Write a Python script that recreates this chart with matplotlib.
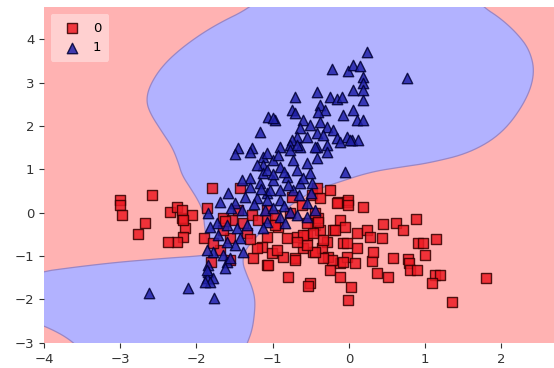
import numpy as np
import matplotlib
matplotlib.use("Agg")
import matplotlib.pyplot as plt

# class 0 samples (red squares)
x0 = [-3.00, -3.00, -2.98, -2.58, -2.67, -2.77, -2.35, -2.25, -2.19, -2.06,
      -2.15, -2.18, -2.25, -2.37, -2.19, -1.90, -1.81, -1.86, -1.80, -1.43,
      -1.56, -1.26, -1.07, -2.18, -1.65, -1.53, -1.56, -1.45, -1.39, -1.27,
      -1.19, -1.07, -1.14, -1.69, -1.78, -1.65, -1.34, -1.21, -1.07, -1.07,
      -0.97, -0.93, -0.81, -0.68, -0.55, -0.45, -0.41, -0.38, -0.29, -0.21,
      -0.12, -0.08, -1.01, -0.87, -0.71, -0.60, -0.47, -0.35, -0.28, -0.25,
      -1.06, -0.80, -0.51, -0.12, -0.03, -0.12, -0.75, -0.48, -0.38, -0.25,
      -0.14, -0.03, -0.62, -0.42, -0.01, -0.01, 0.18, 0.45, 0.62, 0.71,
      0.88, 0.90, 0.97, 1.14, 1.00, 0.58, 0.77, 0.79, 0.80, 0.89,
      0.30, 0.31, 0.37, 0.51, 1.13, 1.19, 1.09, 1.35, 1.80, 0.03,
      -0.01, -0.54, -0.18, -0.05, 0.10, 0.24, 0.28, 0.43, 0.10, -0.03,
      -0.08, 0.08, -0.22, -0.34, -0.45, -0.34, -0.47, -0.55, -0.60, -0.71,
      -0.94, -0.68, -0.55, -0.77, -0.97, -0.45, -0.41, -0.16, -1.62, -1.30]
y0 = [0.29, 0.18, -0.05, 0.41, -0.24, -0.49, 0.02, 0.13, -0.12, -0.05,
      -0.35, -0.56, -0.68, -0.68, 0.06, -0.58, -1.13, 0.11, 0.57, 0.57,
      -1.09, -1.05, -1.21, -0.17, -0.12, -0.17, -0.58, 0.06, -0.24, -0.05,
      -0.17, -0.56, -0.79, -0.86, -0.70, -0.40, -0.47, -0.82, -0.12, 0.06,
      -0.05, -0.33, -0.58, -0.56, -0.51, -0.28, -0.12, -0.40, -0.68, -0.40,
      -0.17, -0.70, -0.93, -1.02, -1.05, -0.82, -0.91, -0.82, -1.02, -1.32,
      -1.21, -1.49, -1.62, -1.16, -1.02, -1.49, 0.36, 0.41, 0.34, 0.52,
      0.25, 0.25, 0.18, 0.57, 0.29, 0.18, 0.13, -0.26, -0.24, -0.40,
      -0.15, -0.70, -0.70, -0.61, -0.98, -1.05, -1.07, -1.16, -1.32, -1.32,
      -1.12, -0.91, -1.39, -1.49, -1.44, -1.44, -1.62, -2.06, -1.51, -1.72,
      -2.02, -1.69, -0.40, -0.33, -0.47, -0.40, -0.56, -0.58, -0.82, -0.70,
      -1.14, -1.16, -1.09, -1.05, -0.91, -0.63, -0.47, -0.75, -0.51, -1.09,
      -0.86, -0.68, -0.24, 0.00, -0.28, 0.00, -0.21, 0.22, -0.20, -0.62]

# class 1 samples (blue triangles)
x1 = [0.24, 0.76, -0.22, -0.01, 0.05, 0.14, 0.18, 0.18, 0.05, 0.18,
      0.18, -0.42, -0.71, -0.25, -0.16, -0.09, -0.38, -0.31, -0.41, -0.75,
      -0.71, -1.06, -0.97, -1.17, 0.05, -0.08, 0.10, 0.18, -0.60, -0.51,
      -0.38, -0.29, -0.64, -0.68, -0.75, -0.55, -0.42, -0.34, -0.21, -0.16,
      -0.03, 0.04, 0.12, -0.29, -0.42, -1.45, -1.27, -0.90, -0.77, -0.64,
      -1.00, -1.49, -1.30, -1.13, -1.00, -0.05, 0.01, -1.13, -1.13, -1.17,
      -1.30, -1.59, -1.36, -1.21, -1.07, -1.69, -1.49, -1.07, -0.93, -0.77,
      -0.68, -0.45, -0.29, -0.12, -0.42, -0.55, -0.73, -0.90, -1.07, -0.68,
      -0.51, -0.81, -1.00, -0.64, -0.48, -1.04, -0.90, -0.73, -0.90, -1.07,
      -0.55, -1.20, -1.00, -0.85, -0.60, -0.80, -1.15, -1.25, -1.40, -1.55,
      -0.85, -0.65, -0.50, -1.30, -1.40, -1.85, -1.73, -1.82, -1.72, -1.60,
      -1.47, -1.43, -1.34, -1.49, -1.60, -1.78, -1.65, -1.39, -1.85, -1.60,
      -1.56, -1.85, -1.78, -1.86, -1.82, -2.62, -2.11, -1.77, -1.86, -1.89,
      -1.63, -1.86, -1.10, -1.00, -0.90, -0.77, -0.68, -0.55, -0.45, -0.84,
      -1.07, -1.13]
y1 = [3.71, 3.11, 3.32, 3.27, 3.41, 3.39, 3.13, 3.00, 2.83, 2.83,
      2.60, 2.79, 2.67, 2.67, 2.62, 2.67, 2.49, 2.37, 2.33, 2.37,
      2.30, 2.21, 2.14, 1.86, 2.37, 2.26, 2.14, 2.14, 2.14, 2.03,
      2.09, 1.98, 1.96, 1.75, 1.68, 1.75, 1.84, 1.79, 1.91, 1.73,
      1.75, 1.68, 1.68, 1.56, 1.52, 1.49, 1.49, 1.52, 1.56, 1.52,
      2.19, 1.36, 1.40, 1.29, 1.22, 0.94, 1.68, 1.10, 0.92, 0.69,
      0.59, 0.45, 0.36, 0.34, 0.45, 0.25, 0.22, 1.38, 1.33, 1.45,
      1.56, 1.52, 1.40, 1.63, 1.26, 1.15, 1.22, 1.06, 0.99, 0.99,
      0.92, 0.82, 0.76, 0.69, 0.69, 0.52, 0.52, 0.52, 0.29, 0.29,
      0.22, 1.10, 0.90, 0.95, 0.80, 0.65, 0.55, 0.20, 0.05, 0.10,
      0.15, 0.40, 0.45, 0.80, 0.75, 0.00, -0.24, -0.33, -0.51, -0.28,
      -0.35, -0.58, -0.28, -0.75, -0.68, -0.91, -0.98, -0.91, -1.21, -1.14,
      -1.05, -1.37, -1.51, -1.51, -1.60, -1.85, -1.74, -1.97, -1.32, -1.60,
      -1.28, -0.86, 0.06, 0.11, -0.10, 0.02, -0.05, -0.10, 0.06, -0.24,
      -0.21, -0.35]

# outline of the class-1 decision region
# (corner points sit outside the axes so smoothing does not eat into the frame)
bound_x = [-0.90, -1.27, -1.76, -2.15, -2.44, -2.61, -2.66, -2.61, -2.45, -2.32,
           -2.24, -2.19, -2.08, -1.98, -1.91, -1.89, -1.85, -1.80, -1.95, -2.39,
           -3.26, -4.40, -4.40, -4.00, -3.62, -3.42, -1.42, -1.33, -1.27, -1.24,
           -1.23, -1.27, -1.34, -1.40, -1.36, -1.23, -1.06, -0.88, -0.67, -0.45,
           -0.16, 0.28, 0.71, 1.06, 1.59, 2.02, 2.33, 2.44, 2.37, 2.20,
           1.98, 1.76, 1.40]
bound_y = [5.40, 4.75, 4.33, 3.87, 3.41, 2.95, 2.60, 2.30, 1.86, 1.52,
           1.17, 0.87, 0.57, 0.29, 0.02, -0.40, -0.75, -0.95, -1.00, -1.05,
           -1.18, -1.45, -2.40, -2.60, -2.96, -3.40, -3.40, -3.00, -2.71, -2.36,
           -2.02, -1.72, -1.44, -1.14, -0.86, -0.58, -0.28, 0.02, 0.29, 0.52,
           0.69, 0.94, 1.06, 1.15, 1.38, 1.84, 2.60, 3.23, 3.76, 4.15,
           4.50, 4.75, 5.40]


def chaikin(xs, ys, n_iter=3):
    # corner cutting so the traced outline looks like a smooth contour
    pts = np.column_stack([xs, ys])
    for _ in range(n_iter):
        nxt = np.roll(pts, -1, axis=0)
        q = 0.75 * pts + 0.25 * nxt
        r = 0.25 * pts + 0.75 * nxt
        pts = np.empty((2 * len(q), 2))
        pts[0::2] = q
        pts[1::2] = r
    return pts[:, 0], pts[:, 1]


sx, sy = chaikin(bound_x, bound_y)

fig = plt.figure(figsize=(5.54, 3.68), dpi=100)
ax = fig.add_axes([0.0794, 0.068, 0.9206, 0.913])
ax.set_facecolor('#ffb2b2')

ax.fill(sx, sy, facecolor='#b2b2ff', edgecolor='#9a86c4', linewidth=0.9)

ax.scatter(x0, y0, marker='s', s=56, c='#ee1c24', alpha=0.85,
           edgecolor='#330000', linewidth=1, label='0')
ax.scatter(x1, y1, marker='^', s=56, c='#2020a8', alpha=0.85,
           edgecolor='#000033', linewidth=1, label='1')

ax.set_xlim(-4, 2.69)
ax.set_ylim(-3.01, 4.75)
ax.set_xticks(np.arange(-4, 3))
ax.set_yticks(np.arange(-3, 5))
ax.tick_params(labelsize=9.5, colors='#333333', length=3.5)
for sp in ax.spines.values():
    sp.set_visible(False)

leg = ax.legend(loc='upper left', fontsize=9.5, framealpha=0.4,
                edgecolor='none', handletextpad=0.6, borderpad=0.6)

fig.savefig('out.png', dpi=100)
